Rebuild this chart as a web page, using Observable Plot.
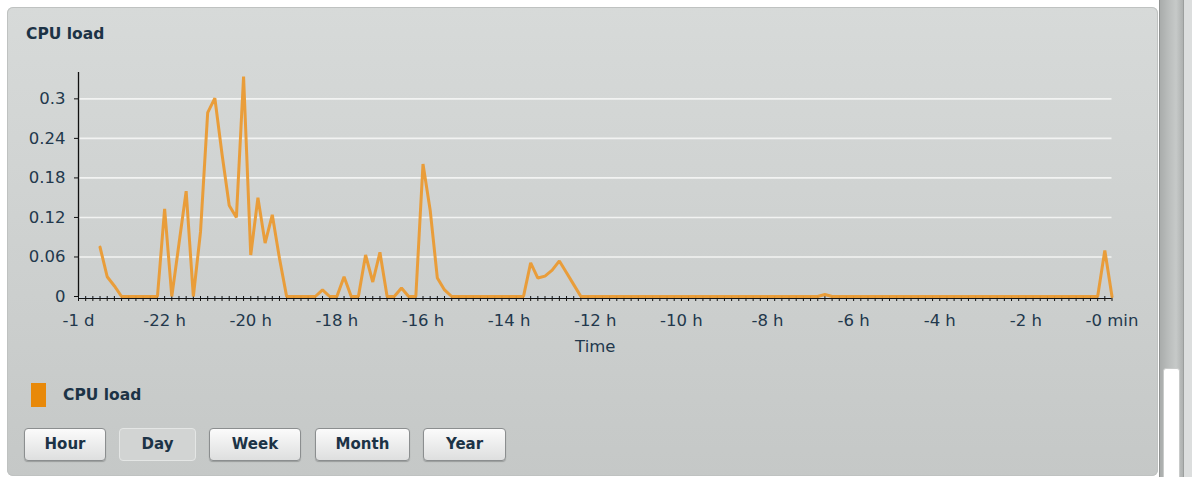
<!DOCTYPE html>
<html>
<head>
<meta charset="utf-8">
<script src="https://cdn.jsdelivr.net/npm/d3@7"></script>
<script src="https://cdn.jsdelivr.net/npm/@observablehq/plot@0.6"></script>
<style>
  html, body { margin: 0; padding: 0; background: #ffffff; width: 1192px; height: 477px; overflow: hidden;
    font-family: "DejaVu Sans", Verdana, sans-serif; }
  #panel { position: absolute; left: 7px; top: 7px; width: 1151px; height: 469px; border-radius: 6px;
    background: linear-gradient(#d7dad9, #c5c8c7); box-shadow: inset 0 0 0 1px #bfc2c1; }
  #title { position: absolute; left: 26px; top: 25px; font-weight: bold; font-size: 15.5px; color: #1c3346; }
  #chart { position: absolute; left: 0; top: 50px; }
  #swatch { position: absolute; left: 31px; top: 383px; width: 15px; height: 24px; background: #e8890a; }
  #legtext { position: absolute; left: 63px; top: 386px; font-weight: bold; font-size: 15.5px; color: #1c3346; }
  .btn { position: absolute; top: 428px; height: 31px; border: 1px solid #8b8e8f; border-radius: 4px;
    background: linear-gradient(#fbfbfb, #dedfdf); box-shadow: 0 1px 1px #9a9d9c; font-weight: bold;
    font-size: 15px; color: #1c3346; text-align: center; line-height: 31px; box-sizing: content-box; }
  .btn.active { background: #d2d4d3; border-color: #e4e6e5; box-shadow: none; }
  #track { position: absolute; left: 1159px; top: 0; width: 24px; height: 477px;
    background: linear-gradient(to right, #a9acab, #b9bcbb 35%, #c6c9c8 70%, #aeb1b0); border-left: 1px solid #8f9291; box-sizing: border-box; }
  #thumb { position: absolute; left: 1163px; top: 368px; width: 17px; height: 110px; background: #ffffff;
    border: 1px solid #c9cbca; border-radius: 3px 3px 0 0; box-sizing: border-box; }
  #edge { position: absolute; left: 1183px; top: 0; width: 9px; height: 477px; background: #dcdede; border-left: 1px solid #9c9f9e; box-sizing: border-box; }
</style>
</head>
<body>
<div id="panel"></div>
<div id="title">CPU load</div>
<div id="chart"></div>
<div id="swatch"></div>
<div id="legtext">CPU load</div>
<div id="buttons"></div>
<div id="track"></div>
<div id="thumb"></div>
<div id="edge"></div>
<script>
// CPU load samples, one every 10 minutes, from -23.5 h to 0
const cpuLoad = [
  0.075, 0.030, 0.016, 0, 0, 0, 0, 0, 0, 0.133,
  0, 0.080, 0.160, 0, 0.098, 0.279, 0.301, 0.216, 0.138, 0.120,
  0.334, 0.063, 0.150, 0.081, 0.124, 0.058, 0, 0, 0, 0,
  0, 0.010, 0, 0, 0.030, 0, 0, 0.063, 0.022, 0.067,
  0, 0, 0.013, 0, 0, 0.201, 0.131, 0.028, 0.010, 0,
  0, 0, 0, 0, 0, 0, 0, 0, 0, 0,
  0.051, 0.028, 0.031, 0.040, 0.054, 0.036, 0.018, 0, 0, 0,
  0, 0, 0, 0, 0, 0, 0, 0, 0, 0,
  0, 0, 0, 0, 0, 0, 0, 0, 0, 0,
  0, 0, 0, 0, 0, 0, 0, 0, 0, 0,
  0, 0.003, 0, 0, 0, 0, 0, 0, 0, 0,
  0, 0, 0, 0, 0, 0, 0, 0, 0, 0,
  0, 0, 0, 0, 0, 0, 0, 0, 0, 0,
  0, 0, 0, 0, 0, 0, 0, 0, 0, 0,
  0.070, 0
];
const firstSampleMin = -1410;   // minutes before now
const sampleStepMin = 10;

const xTickValues = [-1440, -1320, -1200, -1080, -960, -840, -720, -600, -480, -360, -240, -120, 0];
const xTickLabels = ["-1 d", "-22 h", "-20 h", "-18 h", "-16 h", "-14 h", "-12 h", "-10 h", "-8 h", "-6 h", "-4 h", "-2 h", "-0 min"];
const yTickValues = [0, 0.06, 0.12, 0.18, 0.24, 0.3];
const yTickLabels = ["0", "0.06", "0.12", "0.18", "0.24", "0.3"];
const buttonLabels = ["Hour", "Day", "Week", "Month", "Year"];
const activeButton = "Day";

const data = cpuLoad.map((v, i) => ({t: firstSampleMin + i * sampleStepMin, v}));
const xLab = new Map(xTickValues.map((d, i) => [d, xTickLabels[i]]));
const yLab = new Map(yTickValues.map((d, i) => [d, yTickLabels[i]]));
const minorTicks = d3.range(-1440, 1, 10);

const textColor = "#22384c";
const chart = Plot.plot({
  width: 1160,
  height: 310,
  marginLeft: 78,
  marginRight: 48.5,
  marginTop: 22,
  marginBottom: 64,
  style: {background: "transparent", fontFamily: "DejaVu Sans, Verdana, sans-serif", fontSize: "16.5px", color: textColor, overflow: "visible"},
  x: {domain: [-1440, 0]},
  y: {domain: [0, 0.34]},
  marks: [
    Plot.gridY(yTickValues.filter(d => d > 0), {stroke: "#f2f3f2", strokeOpacity: 1, strokeWidth: 1.6}),
    Plot.ruleY([0], {stroke: "#c3d5e8", strokeWidth: 1.2, dy: 1.5}),
    Plot.axisY(yTickValues, {tickSize: 4, tickPadding: 9, tickFormat: d => yLab.get(d), stroke: "#111", fill: textColor, label: null}),
    Plot.axisX(minorTicks, {tickSize: 5, tickFormat: () => "", stroke: "#111", label: null}),
    Plot.axisX(xTickValues, {tickSize: 0, tickPadding: 18, tickFormat: d => xLab.get(d), fill: textColor, label: null}),
    Plot.ruleY([0], {stroke: "#111", strokeWidth: 1.2, dy: 2}),
    Plot.ruleX([-1440], {stroke: "#111", strokeWidth: 1.3}),
    Plot.text(["Time"], {frameAnchor: "bottom", dy: 55, fill: textColor, fontSize: 16.5}),
    Plot.line(data, {x: "t", y: "v", stroke: "#ea9a32", strokeWidth: 3, strokeOpacity: 0.95, strokeLinejoin: "miter"})
  ]
});
document.getElementById("chart").appendChild(chart);

// buttons
const btnGeom = {Hour: [24, 82], Day: [119, 77], Week: [209, 92], Month: [315, 95], Year: [423, 83]};
const btnBox = document.getElementById("buttons");
buttonLabels.forEach(name => {
  const b = document.createElement("div");
  b.className = "btn" + (name === activeButton ? " active" : "");
  b.style.left = btnGeom[name][0] + "px";
  b.style.width = (btnGeom[name][1] - 2) + "px";
  b.textContent = name;
  btnBox.appendChild(b);
});
</script>
</body>
</html>
